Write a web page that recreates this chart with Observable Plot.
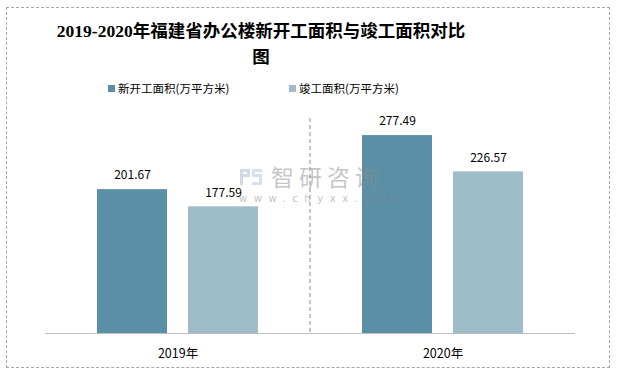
<!DOCTYPE html>
<html><head><meta charset="utf-8">
<script src="https://cdn.jsdelivr.net/npm/d3@7"></script>
<script src="https://cdn.jsdelivr.net/npm/@observablehq/plot@0.6"></script>
<style>
body{margin:0;background:#fff;}
#wrap{position:relative;width:619px;height:373px;overflow:hidden;font-family:"Noto Sans CJK SC","Noto Sans",sans-serif;}
#border{position:absolute;left:6px;top:7px;width:604px;height:361px;border:1px dashed #a6a6a6;box-sizing:border-box;}
#title{position:absolute;left:0;top:18px;width:522px;text-align:center;font-family:"Liberation Serif","Noto Sans CJK SC",serif;font-weight:bold;font-size:17.5px;line-height:26px;color:#000;white-space:nowrap;}
.leg{position:absolute;top:80px;font-size:11.5px;line-height:16px;color:#000;white-space:nowrap;}
.leg i{display:inline-block;width:7px;height:7px;margin-right:3px;vertical-align:1px;}
#wm1{position:absolute;left:271px;top:165px;font-size:23px;line-height:22px;letter-spacing:5px;color:rgba(140,140,140,0.5);white-space:nowrap;z-index:3;}
#wm2{position:absolute;left:239px;top:194px;font-size:10px;line-height:10px;letter-spacing:6.6px;color:rgba(140,140,140,0.55);font-family:"DejaVu Sans",sans-serif;white-space:nowrap;z-index:3;}
#logo{position:absolute;left:239px;top:168px;width:24px;height:18px;z-index:3;}
#chart{position:absolute;left:0;top:0;z-index:1;}
</style></head>
<body><div id="wrap">
<div id="border"></div>
<div id="title">2019-2020年福建省办公楼新开工面积与竣工面积对比<br>图</div>
<div class="leg" style="left:108px"><i style="background:#5b8fa5"></i>新开工面积(万平方米)</div>
<div class="leg" style="left:289px"><i style="background:#9fbcc9"></i>竣工面积(万平方米)</div>
<div id="chart"></div>
<svg id="logo" viewBox="0 0 24 18"><path d="M1 1h10v8H4v8H1z M4 4v2h4V4z" fill="rgba(150,170,200,0.45)"/><path d="M13 1h10v3H16v2h7v11H13v-3h7v-5h-7z" fill="rgba(150,180,220,0.4)"/></svg>
<div id="wm1">智研咨询</div>
<div id="wm2">www.chyxx.com</div>
</div>
<script>
const years = ["2019年", "2020年"];
const series = ["新开工面积(万平方米)", "竣工面积(万平方米)"];
const newStart = [201.67, 277.49];
const completed = [177.59, 226.57];
const colors = ["#5b8fa5", "#9fbcc9"];

const data = [];
years.forEach((y, i) => {
  data.push({year: y, series: series[0], value: newStart[i]});
  data.push({year: y, series: series[1], value: completed[i]});
});

const plot = Plot.plot({
  width: 619,
  height: 373,
  marginTop: 119,
  marginBottom: 40,
  marginLeft: 45,
  marginRight: 44,
  style: {background: "transparent", fontFamily: "'Noto Sans CJK SC', 'Noto Sans', sans-serif"},
  fx: {domain: years, paddingInner: 0, paddingOuter: 0, label: null},
  x: {domain: series, paddingInner: 0.23, paddingOuter: 0.57, axis: null},
  y: {domain: [0, 300], axis: null},
  color: {domain: series, range: colors},
  marks: [
    Plot.barY(data, {fx: "year", x: "series", y: "value", fill: "series"}),
    Plot.text(data, {fx: "year", x: "series", y: "value", text: d => d.value.toFixed(2), dy: -14, fontSize: 12, fill: "#000"}),
    Plot.ruleY([0], {stroke: "#bfbfbf", strokeWidth: 1.2}),
    Plot.axisFx({anchor: "bottom", tickSize: 0, tickPadding: 16, fontSize: 12.5, label: null, fill: "#000"})
  ]
});
plot.setAttribute("overflow", "visible");
document.getElementById("chart").appendChild(plot);

// dashed separator between the two year groups
const fx = plot.scale("fx");
const ys = plot.scale("y");
const sx = fx.apply(years[1]);
d3.select(plot).append("line")
  .attr("x1", sx).attr("x2", sx)
  .attr("y1", ys.apply(300) - 1).attr("y2", ys.apply(0))
  .attr("stroke", "#a6a6a6").attr("stroke-width", 1.3).attr("stroke-dasharray", "4,3");
</script>
</body></html>
